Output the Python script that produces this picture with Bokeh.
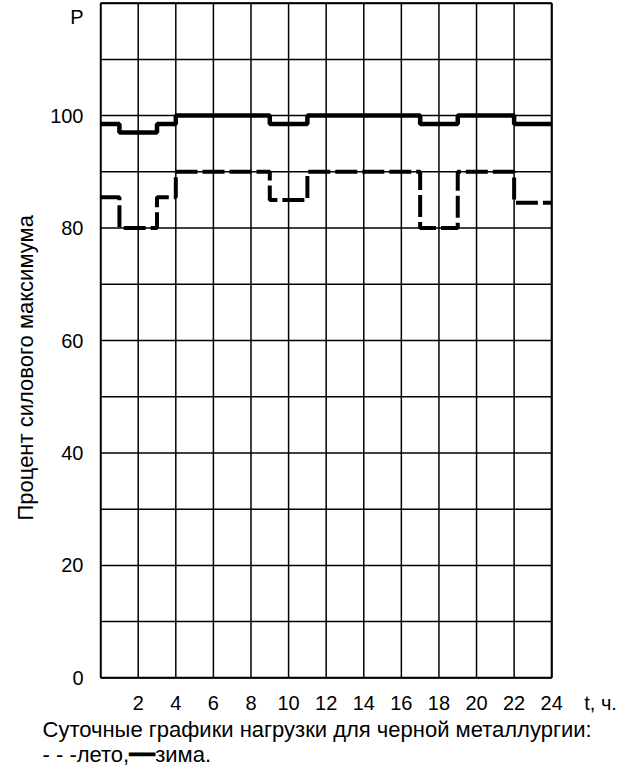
from bokeh.plotting import figure
from bokeh.models import FixedTicker, Title
from bokeh.embed import file_html
from bokeh.resources import INLINE

# ---- data ----
hours_edges = [0, 1, 3, 4, 9, 11, 17, 19, 22, 24]
summer_load = [85.5, 80, 85.5, 90, 85, 90, 80, 90, 84.5]   # лето (dashed)
winter_load = [98.5, 97, 98.5, 100, 98.5, 100, 98.5, 100, 98.5]  # зима (solid)
x_tick_values = [2, 4, 6, 8, 10, 12, 14, 16, 18, 20, 22, 24, 26.6]
x_tick_labels = {26.6: "t, ч."}
y_tick_values = [0, 20, 40, 60, 80, 100, 117.5]
y_tick_labels = {117.5: "P"}
x_grid_values = list(range(0, 25, 2))      # hours
y_grid_values = list(range(0, 121, 10))    # percent
x_limits = (0, 24)
y_limits = (0, 120)

FONT = "Liberation Sans"

p = figure(width=630, height=775, x_range=(-0.06, 27.5), y_range=(-0.3, 120.3),
           output_backend="svg", toolbar_location=None,
           min_border_left=99, min_border_right=13,
           min_border_top=1, min_border_bottom=96)
p.background_fill_color = "white"
p.border_fill_color = "white"
p.outline_line_color = None
p.xgrid.grid_line_color = None
p.ygrid.grid_line_color = None

# axes
p.xaxis.ticker = FixedTicker(ticks=x_tick_values)
p.xaxis.major_label_overrides = x_tick_labels
p.yaxis.ticker = FixedTicker(ticks=y_tick_values)
p.yaxis.major_label_overrides = y_tick_labels
for ax in (p.xaxis[0], p.yaxis[0]):
    ax.axis_line_color = None
    ax.major_tick_line_color = None
    ax.minor_tick_line_color = None
    ax.major_label_text_font = FONT
    ax.major_label_text_font_size = "20px"
    ax.major_label_text_color = "black"
p.xaxis.major_label_standoff = 6
p.yaxis.major_label_standoff = 10

# grid of the chart (2 h x 10 %), bounded to 0..24 h and 0..120 %
n_v = len(x_grid_values)
n_h = len(y_grid_values)
p.segment(x0=x_grid_values, y0=[y_limits[0]] * n_v,
          x1=x_grid_values, y1=[y_limits[1]] * n_v,
          line_color="black", line_width=1.5)
p.segment(x0=[x_limits[0]] * n_h, y0=y_grid_values,
          x1=[x_limits[1]] * n_h, y1=y_grid_values,
          line_color="black", line_width=1.5)
# heavier outer border
p.segment(x0=[x_limits[0], x_limits[1]], y0=[y_limits[0], y_limits[0]],
          x1=[x_limits[0], x_limits[1]], y1=[y_limits[1], y_limits[1]],
          line_color="black", line_width=2)
p.segment(x0=[x_limits[0], x_limits[0]], y0=[y_limits[0], y_limits[1]],
          x1=[x_limits[1], x_limits[1]], y1=[y_limits[0], y_limits[1]],
          line_color="black", line_width=2)

# load curves (step "after")
sx = hours_edges
sy_summer = summer_load + [summer_load[-1]]
sy_winter = winter_load + [winter_load[-1]]
p.step(sx, sy_winter, mode="after", line_color="black", line_width=4.5)
p.step(sx, sy_summer, mode="after", line_color="black", line_width=4,
       line_dash="22 5")

# y axis title (left panel, outside the axis)
ytitle = Title(text="Процент силового максимума", align="left", offset=159,
               text_font=FONT, text_font_size="22px", text_font_style="normal",
               text_color="black", standoff=19)
p.add_layout(ytitle, "left")

# caption lines below the x axis
cap1 = Title(text="Суточные графики нагрузки для черной металлургии:",
             align="left", offset=-57, text_font=FONT, text_font_size="22px",
             text_font_style="normal", text_color="black", standoff=-3)
cap2 = Title(text="- - -лето,━━зима.", align="left", offset=-57,
             text_font=FONT, text_font_size="22px",
             text_font_style="normal", text_color="black", standoff=-2)
p.add_layout(cap1, "below")
p.add_layout(cap2, "below")

open("out.html", "w").write(file_html(p, INLINE))
